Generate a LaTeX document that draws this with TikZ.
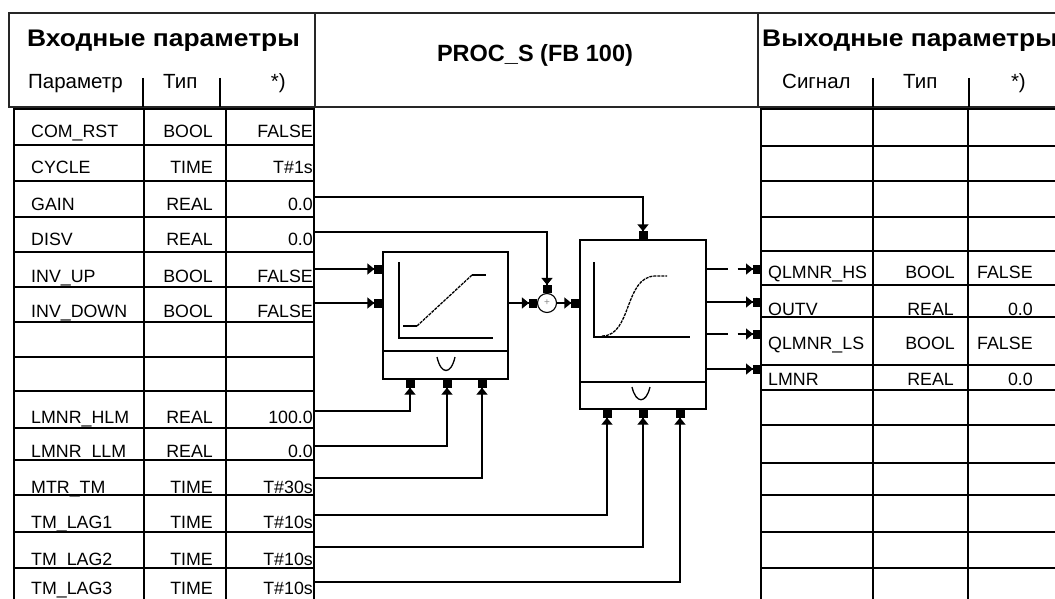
\documentclass[tikz,border=0pt]{standalone}
\usepackage{fontspec}
\setmainfont{Liberation Sans}
\newfontfamily\widefont[FakeStretch=1.1]{Liberation Sans}
\usetikzlibrary{arrows.meta}
\tikzset{
hdr/.style={line width=2.4pt,color=black!85},
grd/.style={line width=1.3pt},
cell/.style={inner sep=0pt,font=\fontsize{17.8}{18}\selectfont},
ttl/.style={inner sep=0pt,font=\fontsize{23.5}{24}\selectfont\bfseries},
wttl/.style={inner sep=0pt,font=\widefont\fontsize{24}{24}\selectfont\bfseries},
sub/.style={inner sep=0pt,font=\fontsize{20.5}{21}\selectfont},
blk/.style={draw,line width=1.3pt,inner sep=0pt},
wire/.style={line width=1.3pt,-{Triangle[length=7pt,width=11pt]Rectangle[length=8pt,width=9pt]}},
lng/.style={dash pattern=on 21pt off 10pt},
crv/.style={line width=1.3pt,dash pattern=on 3pt off 1pt},
}

\begin{document}
\begin{tikzpicture}[x=1pt,y=1pt,yscale=-1]
\useasboundingbox (0,0) rectangle (1055,599);
\clip (0,0) rectangle (1055,599);

%Shape: Header frame
\draw[hdr] (1060,13) -- (9,13) -- (9,107) -- (1060,107) ;
\draw[hdr] (315,13) -- (315,107) ;
\draw[hdr] (758,13) -- (758,107) ;

%Header texts
\node[wttl,anchor=base west] (inTitle) at (27,47) {Входные параметры};
\node[ttl,anchor=base] (fbTitle) at (535,62) {PROC\_S (FB 100)};
\node[wttl,anchor=base west] (outTitle) at (762,47) {Выходные параметры};
\node[sub,anchor=base west] (inHead1) at (28,89) {Параметр};
\node[sub,anchor=base west] (inHead2) at (163,89) {Тип};
\node[sub,anchor=base east] (inHead3) at (286,89) {*)};
\node[sub,anchor=base west] (outHead1) at (782,89) {Сигнал};
\node[sub,anchor=base west] (outHead2) at (903,89) {Тип};
\node[sub,anchor=base east] (outHead3) at (1026,89) {*)};
%Straight Lines: header ticks
\foreach \x in {143,220,873,969} \draw[grd] (\x,78) -- (\x,107) ;

%Shape: input table
\foreach \y in {109,145,181,217,252,287,322,357,391,428,460,495,532,568}
  \draw[grd] (14,\y) -- (314,\y) ;
\foreach \x in {14,144,226,314} \draw[grd] (\x,108) -- (\x,600) ;
\foreach \nm/\tp/\vl/\b in {COM\_RST/BOOL/FALSE/138,CYCLE/TIME/T\#1s/174,GAIN/REAL/0.0/210,DISV/REAL/0.0/245,INV\_UP/BOOL/FALSE/282,INV\_DOWN/BOOL/FALSE/317,LMNR\_HLM/REAL/100.0/423,LMNR\_LLM/REAL/0.0/457,MTR\_TM/TIME/T\#30s/493,TM\_LAG1/TIME/T\#10s/528,TM\_LAG2/TIME/T\#10s/565,TM\_LAG3/TIME/T\#10s/594}{
  \node[cell,anchor=base west] (in-\b) at (31,\b) {\nm};
  \node[cell,anchor=base east] (intp-\b) at (213,\b) {\tp};
  \node[cell,anchor=base east] (inval-\b) at (313,\b) {\vl};
}

%Shape: output table
\foreach \y in {109,146,181,217,251,285,317,365,390,425,463,495,532,568}
  \draw[grd] (761,\y) -- (1060,\y) ;
\foreach \x in {761,873,968} \draw[grd] (\x,108) -- (\x,600) ;
\foreach \nm/\tp/\vl/\b in {QLMNR\_HS/BOOL/FALSE/278,QLMNR\_LS/BOOL/FALSE/349}{
  \node[cell,anchor=base west] (out-\b) at (768,\b) {\nm};
  \node[cell,anchor=base east] (outtp-\b) at (955,\b) {\tp};
  \node[cell,anchor=base west] (outval-\b) at (977,\b) {\vl};
}
\foreach \nm/\tp/\vl/\b in {OUTV/REAL/0.0/315,LMNR/REAL/0.0/385}{
  \node[cell,anchor=base west] (out-\b) at (768,\b) {\nm};
  \node[cell,anchor=base east] (outtp-\b) at (954,\b) {\tp};
  \node[cell,anchor=base east] (outval-\b) at (1033,\b) {\vl};
}

%Pins
\coordinate (gain) at (315,197);
\coordinate (disv) at (315,232);
\coordinate (invup) at (315,269);
\coordinate (invdn) at (315,303);
\coordinate (hlm) at (315,411);
\coordinate (llm) at (315,446);
\coordinate (mtr) at (315,478);
\coordinate (lag1) at (315,515);
\coordinate (lag2) at (315,547);
\coordinate (lag3) at (315,582);
\coordinate (qhs) at (761,269);
\coordinate (outv) at (761,302);
\coordinate (qls) at (761,334);
\coordinate (lmnr) at (761,369);

%Shape: ramp block
\node[blk,minimum width=125pt,minimum height=127pt] (ramp) at (445.5,315.5) {};
\draw[grd] (383,351) -- (508,351) ;
\draw[grd] (399,262) -- (399,338) -- (493,338) ;
\draw[grd] (403,326) -- (417,326) ;
\draw[crv] (417,326) -- (472,275) ;
\draw[grd] (472,275) -- (486,275) ;
\draw[grd] (437,357) .. controls (441,375) and (451,375) .. (455,357) ;

%Shape: lag block
\node[blk,minimum width=126pt,minimum height=169pt] (lag) at (643,324.5) {};
\draw[grd] (580,382) -- (706,382) ;
\draw[grd] (594,262) -- (594,337) -- (690,337) ;
\draw[crv] (602,336) .. controls (632,336) and (624,277) .. (655,276) -- (667,276) ;
\draw[grd] (632,387) .. controls (636,404) and (646,404) .. (650,387) ;

%Shape: sum point
\node[draw,circle,line width=1.1pt,minimum size=19pt,inner sep=0pt,text=black!45,font=\fontsize{10}{10}\selectfont] (sum) at (547,303) {+};

%Straight Lines: signals
\draw[wire] (gain) -| (lag.north) ;
\draw[wire] (disv) -| (sum.north) ;
\draw[wire] (invup) -- (ramp.west |- invup) ;
\draw[wire] (invdn) -- (ramp.west |- invdn) ;
\draw[wire] (ramp.east |- sum) -- (sum.west) ;
\draw[wire] (sum.east) -- (lag.west |- sum) ;
\draw[wire] (hlm) -| (ramp.south -| 410,0) ;
\draw[wire] (llm) -| (ramp.south -| 447,0) ;
\draw[wire] (mtr) -| (ramp.south -| 482,0) ;
\draw[wire] (lag1) -| (lag.south -| 607,0) ;
\draw[wire] (lag2) -| (lag.south -| 643,0) ;
\draw[wire] (lag3) -| (lag.south -| 680,0) ;
\draw[wire,lng] (lag.east |- qhs) -- (qhs) ;
\draw[wire] (lag.east |- outv) -- (outv) ;
\draw[wire,lng] (lag.east |- qls) -- (qls) ;
\draw[wire] (lag.east |- lmnr) -- (lmnr) ;
\end{tikzpicture}
\end{document}
